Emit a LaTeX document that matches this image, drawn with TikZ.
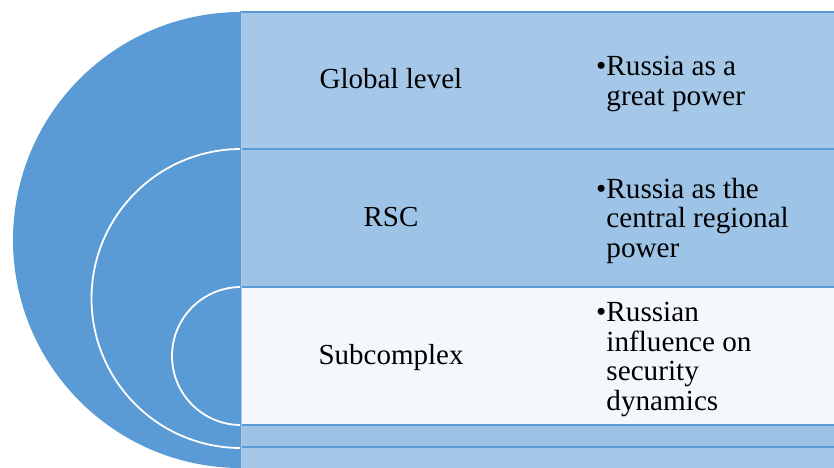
\documentclass[tikz,border=0pt]{standalone}
\usepackage{fontspec}
\setmainfont{Liberation Serif}
\definecolor{discblue}{HTML}{5B9BD5}
\definecolor{bandA}{HTML}{A6C8E8}
\definecolor{bandB}{HTML}{9DC3E6}
\definecolor{bandC}{HTML}{F4F8FC}
\definecolor{seam}{HTML}{AACCEB}
\tikzset{
  ring/.style={fill=discblue,draw=white,line width=1.8pt},
  band/.style={draw=discblue,line width=1.6pt},
  level/.style={inner sep=0pt,anchor=base,font=\fontsize{29}{29.5}\selectfont},
  point/.style={inner sep=0pt,anchor=west,font=\fontsize{29.2}{29.7}\selectfont}
}
\begin{document}
\begin{tikzpicture}[x=1pt,y=-1pt]
    \useasboundingbox (0,0) rectangle (834,467);
    \clip (0,0) rectangle (834,467);

    \fill[discblue] (241,240) circle (228);
    \draw[ring] (241,298.5) circle (149.5);
    \draw[ring] (241,356) circle (69);

    \foreach \t/\b/\c in {12/149/bandA,149/287/bandB,287/425/bandC,425/447/bandB,447/480/bandA} {
      \draw[band,fill=\c] (241,\t) rectangle (850,\b);
    }
    \draw[seam,line width=1pt] (241.5,12) -- (241.5,470);

    \node[level] (global) at (391,88) {Global level};
    \node[level] (rsc) at (391,226) {RSC};
    \node[level] (sub) at (391,364) {Subcomplex};

    \node[point] (power) at (596,84.5)
      {\begin{tabular}{@{}l@{}l@{}}\textbullet&Russia as a\\&great power\end{tabular}};
    \node[point] (central) at (596,222)
      {\begin{tabular}{@{}l@{}l@{}}\textbullet&Russia as the\\&central regional\\&power\end{tabular}};
    \node[point] (influence) at (596,360)
      {\begin{tabular}{@{}l@{}l@{}}\textbullet&Russian\\&influence on\\&security\\&dynamics\end{tabular}};
  \end{tikzpicture}
\end{document}
